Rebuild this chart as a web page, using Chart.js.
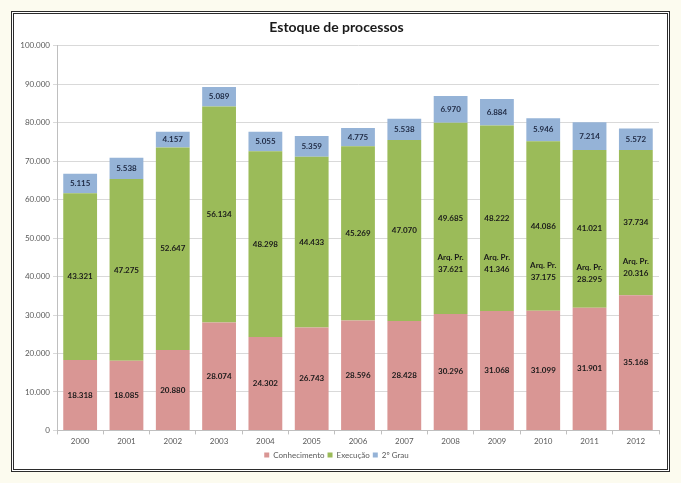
<!DOCTYPE html>
<html>
<head>
<meta charset="utf-8">
<script src="https://cdn.jsdelivr.net/npm/chart.js@4.4.1/dist/chart.umd.min.js"></script>
<style>
  html, body { margin: 0; padding: 0; background: #fcfbef; }
  #frame {
    position: absolute; left: 11px; top: 11px;
    width: 653px; height: 455px;
    border: 3px double #2b2b2b;
    background: #fff;
  }
  #chart { position: absolute; left: 0; top: 0; }
</style>
</head>
<body>
<div id="frame"><canvas id="chart" width="653" height="455"></canvas></div>
<script>
// Dados
const anos = ['2000','2001','2002','2003','2004','2005','2006','2007','2008','2009','2010','2011','2012'];
const conhecimento = [18318, 18085, 20880, 28074, 24302, 26743, 28596, 28428, 30296, 31068, 31099, 31901, 35168];
const execucao     = [43321, 47275, 52647, 56134, 48298, 44433, 45269, 47070, 49685, 48222, 44086, 41021, 37734];
const segundoGrau  = [5115, 5538, 4157, 5089, 5055, 5359, 4775, 5538, 6970, 6884, 5946, 7214, 5572];
// arquivados provisoriamente (dentro da execução)
const arqProvisorio = [null, null, null, null, null, null, null, null, 37621, 41346, 37175, 28295, 20316];

const yMax = 100000;
const yStep = 10000;

const cores = {
    conhecimento: '#d99694',
    execucao: '#9bbb59',
    segundoGrau: '#95b3d7'
};

const fonte = 'Lato, "Open Sans", sans-serif';

function fmt(v) {
    return String(v).replace(/\B(?=(\d{3})+(?!\d))/g, '.');
}

// rótulos dentro das barras
const rotulos = {
    id: 'rotulos',
    afterDatasetsDraw(chart) {
        const ctx = chart.ctx;
        ctx.save();
        ctx.font = 'bold 8px ' + fonte;
        ctx.textAlign = 'center';
        ctx.textBaseline = 'middle';
        chart.data.datasets.forEach((ds, i) => {
            const meta = chart.getDatasetMeta(i);
            meta.data.forEach((bar, j) => {
                const cy = (bar.y + bar.base) / 2;
                ctx.fillStyle = i === 2 ? '#1f2a44' : '#1a1a1a';
                ctx.fillText(fmt(ds.data[j]), bar.x, cy);
                if (i === 1 && arqProvisorio[j] != null) {
                    ctx.fillText('Arq. Pr.', bar.x, cy + 39);
                    ctx.fillText(fmt(arqProvisorio[j]), bar.x, cy + 51);
                }
            });
        });
        ctx.restore();
    }
};

const ctx = document.getElementById('chart').getContext('2d');
const chart = new Chart(ctx, {
    type: 'bar',
    data: {
        labels: anos,
        datasets: [
            { label: 'Conhecimento', data: conhecimento, backgroundColor: cores.conhecimento },
            { label: 'Execução', data: execucao, backgroundColor: cores.execucao },
            { label: '2º Grau', data: segundoGrau, backgroundColor: cores.segundoGrau }
        ]
    },
    plugins: [rotulos],
    options: {
        responsive: false,
        animation: false,
        layout: { padding: { left: 0, right: 8, top: 0, bottom: 0 } },
        datasets: {
            bar: { barPercentage: 0.73, categoryPercentage: 1 }
        },
        plugins: {
            title: {
                display: true,
                text: 'Estoque de processos',
                color: '#1a1a1a',
                font: { family: fonte, size: 14, weight: 'bold' },
                padding: { top: 5, bottom: 10 }
            },
            legend: {
                position: 'bottom',
                labels: {
                    boxWidth: 5, boxHeight: 5,
                    color: '#595959',
                    font: { family: fonte, size: 8 },
                    padding: 3
                }
            },
            tooltip: { enabled: false }
        },
        scales: {
            x: {
                stacked: true,
                grid: { display: true, drawOnChartArea: false, tickLength: 4, color: '#bfbfbf' },
                border: { color: '#bfbfbf' },
                ticks: { color: '#595959', font: { family: fonte, size: 8 }, padding: 2 }
            },
            y: {
                stacked: true,
                min: 0, max: yMax,
                afterFit: s => { s.width = 43; },
                grid: { color: '#d9d9d9', tickLength: 4 },
                border: { color: '#bfbfbf' },
                ticks: {
                    stepSize: yStep,
                    color: '#595959',
                    font: { family: fonte, size: 8 },
                    padding: 3,
                    callback: v => fmt(v)
                }
            }
        }
    }
});
</script>
</body>
</html>
